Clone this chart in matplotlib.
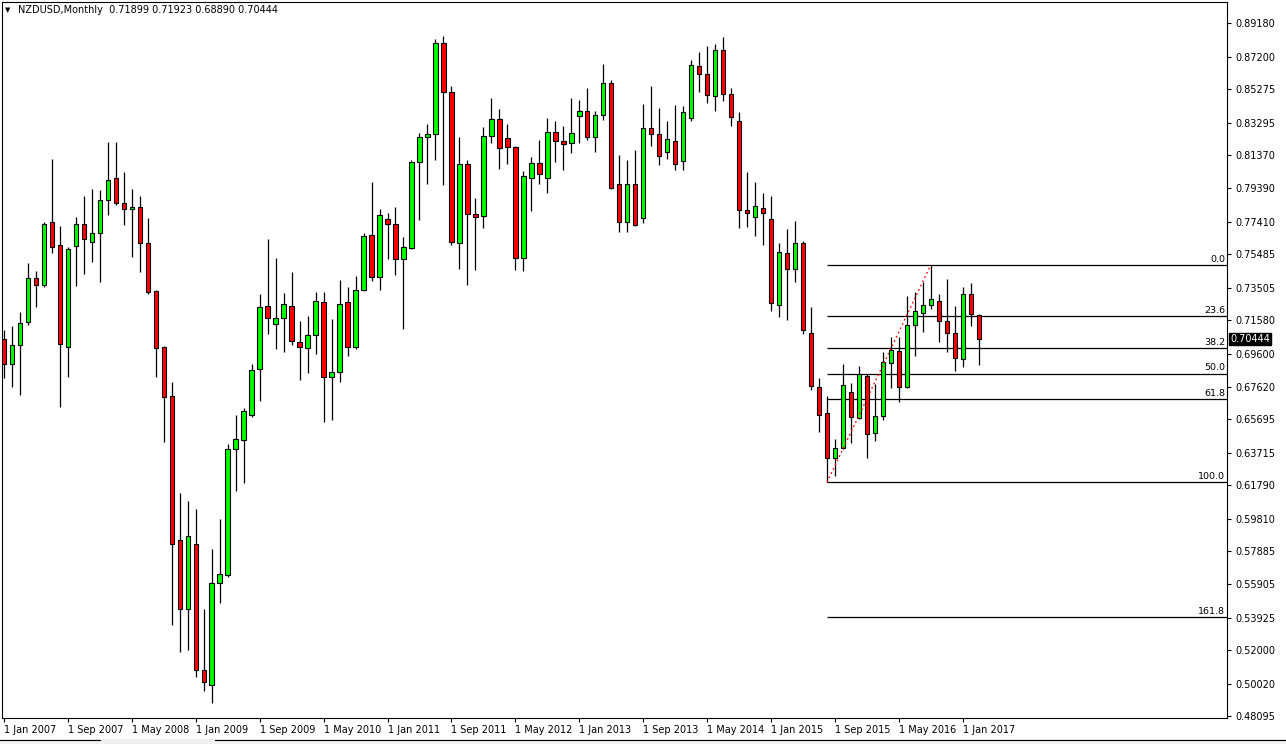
import matplotlib
matplotlib.use('Agg')
import matplotlib.pyplot as plt
import numpy as np
from matplotlib.patches import Rectangle

# monthly bars, Jan 2007 .. Mar 2017
title = 'NZDUSD,Monthly  0.71899 0.71923 0.68890 0.70444'

opens = [0.7044, 0.6895, 0.7008, 0.7144, 0.7405, 0.7364, 0.7737, 0.7601, 0.7000, 0.7599, 0.7727, 0.7619,
         0.7672, 0.7868, 0.7998, 0.7852, 0.7815, 0.7826, 0.7613, 0.7330, 0.6998, 0.6707, 0.5852, 0.5448,
         0.5828, 0.5081, 0.4992, 0.5597, 0.5644, 0.6391, 0.6448, 0.6596, 0.6866, 0.7239, 0.7132, 0.7168,
         0.7239, 0.7026, 0.6990, 0.7067, 0.7263, 0.6818, 0.6848, 0.7263, 0.6996, 0.7334, 0.7660, 0.7415,
         0.7755, 0.7726, 0.7522, 0.7587, 0.8093, 0.8245, 0.8259, 0.8799, 0.8508, 0.7613, 0.8081, 0.7787,
         0.7773, 0.8247, 0.8348, 0.8236, 0.8182, 0.7527, 0.7998, 0.8087, 0.7998, 0.8271, 0.8218, 0.8206,
         0.8366, 0.8396, 0.8241, 0.8372, 0.8562, 0.7963, 0.7741, 0.7963, 0.7761, 0.8295, 0.8259, 0.8152,
         0.8218, 0.8099, 0.8354, 0.8662, 0.8615, 0.8484, 0.8757, 0.8496, 0.8336, 0.7808, 0.7767, 0.7820,
         0.7755, 0.7245, 0.7554, 0.7459, 0.7613, 0.7079, 0.6759, 0.6605, 0.6338, 0.6397, 0.6729, 0.6575,
         0.6824, 0.6486, 0.6587, 0.6901, 0.6972, 0.6759, 0.7127, 0.7198, 0.7245, 0.7269, 0.7150, 0.7079,
         0.6925, 0.7310, 0.71899]

highs = [0.7099, 0.7122, 0.7205, 0.7494, 0.7447, 0.7741, 0.8111, 0.7715, 0.7589, 0.7769, 0.7893, 0.7935,
         0.7929, 0.8212, 0.8212, 0.8036, 0.7935, 0.7893, 0.7763, 0.7336, 0.7004, 0.6790, 0.6132, 0.6085,
         0.6037, 0.5443, 0.5800, 0.5978, 0.6423, 0.6595, 0.6636, 0.6897, 0.7314, 0.7638, 0.7526, 0.7318,
         0.7443, 0.7152, 0.7182, 0.7322, 0.7322, 0.7164, 0.7393, 0.7354, 0.7419, 0.7674, 0.7976, 0.7816,
         0.7793, 0.7828, 0.7650, 0.8107, 0.8269, 0.8320, 0.8823, 0.8842, 0.8544, 0.8243, 0.8107, 0.7881,
         0.8302, 0.8474, 0.8409, 0.8320, 0.8190, 0.8040, 0.8125, 0.8225, 0.8356, 0.8338, 0.8308, 0.8473,
         0.8463, 0.8534, 0.8397, 0.8676, 0.8579, 0.8136, 0.8109, 0.8166, 0.8439, 0.8546, 0.8413, 0.8338,
         0.8433, 0.8425, 0.8698, 0.8746, 0.8783, 0.8793, 0.8836, 0.8532, 0.8390, 0.8034, 0.7975, 0.7909,
         0.7893, 0.7613, 0.7696, 0.7743, 0.7625, 0.7233, 0.6812, 0.6707, 0.6456, 0.6895, 0.6783, 0.6885,
         0.6836, 0.6777, 0.6968, 0.7055, 0.7055, 0.7300, 0.7324, 0.7382, 0.7485, 0.7310, 0.7399, 0.7239,
         0.7354, 0.7376, 0.71923]

lows = [0.6812, 0.6762, 0.6715, 0.7127, 0.7233, 0.7357, 0.7554, 0.6640, 0.6822, 0.7361, 0.7433, 0.7504,
        0.7385, 0.7781, 0.7842, 0.7723, 0.7535, 0.7444, 0.7310, 0.6822, 0.6436, 0.5351, 0.5191, 0.5203,
        0.5043, 0.4962, 0.4889, 0.5482, 0.5632, 0.6146, 0.6193, 0.6585, 0.6679, 0.7077, 0.6988, 0.6970,
        0.7012, 0.6804, 0.6846, 0.6958, 0.6555, 0.6567, 0.6792, 0.6946, 0.6984, 0.7330, 0.7391, 0.7338,
        0.7522, 0.7427, 0.7106, 0.7581, 0.7753, 0.7966, 0.8109, 0.7960, 0.7605, 0.7462, 0.7367, 0.7456,
        0.7705, 0.8209, 0.8055, 0.8085, 0.7456, 0.7450, 0.7806, 0.7966, 0.7913, 0.8097, 0.8049, 0.8150,
        0.8209, 0.8224, 0.8156, 0.8346, 0.7935, 0.7682, 0.7682, 0.7715, 0.7735, 0.8192, 0.8079, 0.8114,
        0.8049, 0.8049, 0.8340, 0.8512, 0.8447, 0.8399, 0.8458, 0.8310, 0.7704, 0.7711, 0.7658, 0.7605,
        0.7211, 0.7174, 0.7160, 0.7385, 0.7077, 0.6743, 0.6496, 0.6196, 0.6235, 0.6393, 0.6427, 0.6571,
        0.6341, 0.6442, 0.6567, 0.6757, 0.6674, 0.6755, 0.6946, 0.7085, 0.7221, 0.7029, 0.6970, 0.6857,
        0.6881, 0.7124, 0.68890]

closes = [0.6895, 0.7008, 0.7138, 0.7405, 0.7364, 0.7727, 0.7593, 0.7014, 0.7577, 0.7727, 0.7637, 0.7672,
          0.7870, 0.7986, 0.7850, 0.7815, 0.7826, 0.7613, 0.7326, 0.6994, 0.6703, 0.5833, 0.5448, 0.5881,
          0.5081, 0.5010, 0.5597, 0.5650, 0.6393, 0.6452, 0.6617, 0.6860, 0.7233, 0.7168, 0.7168, 0.7253,
          0.7032, 0.6996, 0.7067, 0.7269, 0.6818, 0.6848, 0.7251, 0.6996, 0.7334, 0.7654, 0.7415, 0.7779,
          0.7726, 0.7522, 0.7589, 0.8093, 0.8241, 0.8259, 0.8799, 0.8508, 0.7619, 0.8081, 0.7787, 0.7767,
          0.8247, 0.8348, 0.8176, 0.8182, 0.7527, 0.8010, 0.8087, 0.8026, 0.8271, 0.8218, 0.8200, 0.8265,
          0.8396, 0.8241, 0.8372, 0.8562, 0.7939, 0.7741, 0.7963, 0.7720, 0.8295, 0.8259, 0.8132, 0.8230,
          0.8081, 0.8390, 0.8668, 0.8615, 0.8491, 0.8757, 0.8496, 0.8360, 0.7808, 0.7791, 0.7832, 0.7791,
          0.7257, 0.7559, 0.7459, 0.7613, 0.7097, 0.6765, 0.6593, 0.6338, 0.6397, 0.6771, 0.6581, 0.6836,
          0.6480, 0.6587, 0.6907, 0.6978, 0.6759, 0.7127, 0.7210, 0.7245, 0.7281, 0.7150, 0.7079, 0.6931,
          0.7310, 0.7192, 0.70444]

date_ticks = [0, 8, 16, 24, 32, 40, 48, 56, 64, 72, 80, 88, 96, 104, 112, 120]
date_labels = ['1 Jan 2007', '1 Sep 2007', '1 May 2008', '1 Jan 2009', '1 Sep 2009', '1 May 2010',
               '1 Jan 2011', '1 Sep 2011', '1 May 2012', '1 Jan 2013', '1 Sep 2013', '1 May 2014',
               '1 Jan 2015', '1 Sep 2015', '1 May 2016', '1 Jan 2017']

price_ticks = [0.89180, 0.87200, 0.85275, 0.83295, 0.81370, 0.79390, 0.77410, 0.75485, 0.73505, 0.71580,
               0.69600, 0.67620, 0.65695, 0.63715, 0.61790, 0.59810, 0.57885, 0.55905, 0.53925, 0.52000,
               0.50020, 0.48095]

# fibonacci retracement, Aug 2015 low -> Sep 2016 high
fib_levels = [0.0, 23.6, 38.2, 50.0, 61.8, 100.0, 161.8]
fib_high = 0.7485
fib_low = 0.6196
fib_from = 103
fib_to = 116
last_price = 0.70444

W, H = 1286, 744
fig = plt.figure(figsize=(W / 100, H / 100), dpi=100)
fig.patch.set_facecolor('white')
ax = fig.add_axes([2 / W, 26 / H, 1225 / W, 716 / H])

o = np.array(opens)
h = np.array(highs)
l = np.array(lows)
c = np.array(closes)
x = np.arange(len(o))
up = c >= o

xmax = 153.07
ax.set_xlim(-0.25, xmax)
ax.set_ylim(0.4799, 0.9044)

ax.vlines(x, l, h, color='black', linewidth=0.9, zorder=2)
ax.bar(x[up], (c - o)[up], bottom=o[up], width=0.56, color='#00ff00',
       edgecolor='black', linewidth=0.8, zorder=3)
ax.bar(x[~up], (o - c)[~up], bottom=c[~up], width=0.56, color='#ff0000',
       edgecolor='black', linewidth=0.8, zorder=3)

# fibo lines
rng = fib_high - fib_low
for lv in fib_levels:
    y = fib_high - rng * lv / 100
    ax.hlines(y, fib_from, xmax, color='black', linewidth=0.9, zorder=1)
    ax.text(xmax - 0.25, y + 0.0007, f'{lv:.1f}', ha='right', va='bottom', fontsize=6.8, color='black')
ax.plot([fib_from, fib_to], [fib_low, fib_high], color='red', linewidth=1.0,
        linestyle=(0, (1.2, 2.2)), zorder=4)

# axes styling
for s in ax.spines.values():
    s.set_linewidth(0.8)
    s.set_color('black')

ax.yaxis.tick_right()
ax.set_yticks(price_ticks)
ax.set_yticklabels([f'{v:.5f}' for v in price_ticks])
ax.tick_params(axis='y', length=3, width=0.8, labelsize=7, pad=3, colors='black')

ax.set_xticks(date_ticks)
ax.set_xticklabels(date_labels, ha='left')
ax.tick_params(axis='x', length=3, width=0.8, labelsize=7, pad=2, colors='black')

# current price marker
ax.text(1.0 + 3 / 1225, last_price, f'{last_price:.5f}', transform=ax.get_yaxis_transform(),
        ha='left', va='center', fontsize=7, color='white', clip_on=False, zorder=10,
        bbox=dict(boxstyle='square,pad=0.12', fc='black', ec='black'))

# header
fig.text(5 / W, 1 - 10 / H, '\u25bc', fontsize=5, va='center', ha='left', color='#000000')
fig.text(18 / W, 1 - 10 / H, title, fontsize=7, va='center', ha='left', color='#000000')

# tab strip at the bottom
fig.patches.append(Rectangle((0, 0), 1, 5 / H, transform=fig.transFigure,
                             facecolor='#f0f0f0', edgecolor='none'))
fig.lines.append(plt.Line2D([0, 100 / W], [4 / H, 4 / H], transform=fig.transFigure,
                            color='black', linewidth=0.8))
fig.lines.append(plt.Line2D([215 / W, 1], [4 / H, 4 / H], transform=fig.transFigure,
                            color='black', linewidth=0.8))

fig.savefig('out.png', dpi=100)
